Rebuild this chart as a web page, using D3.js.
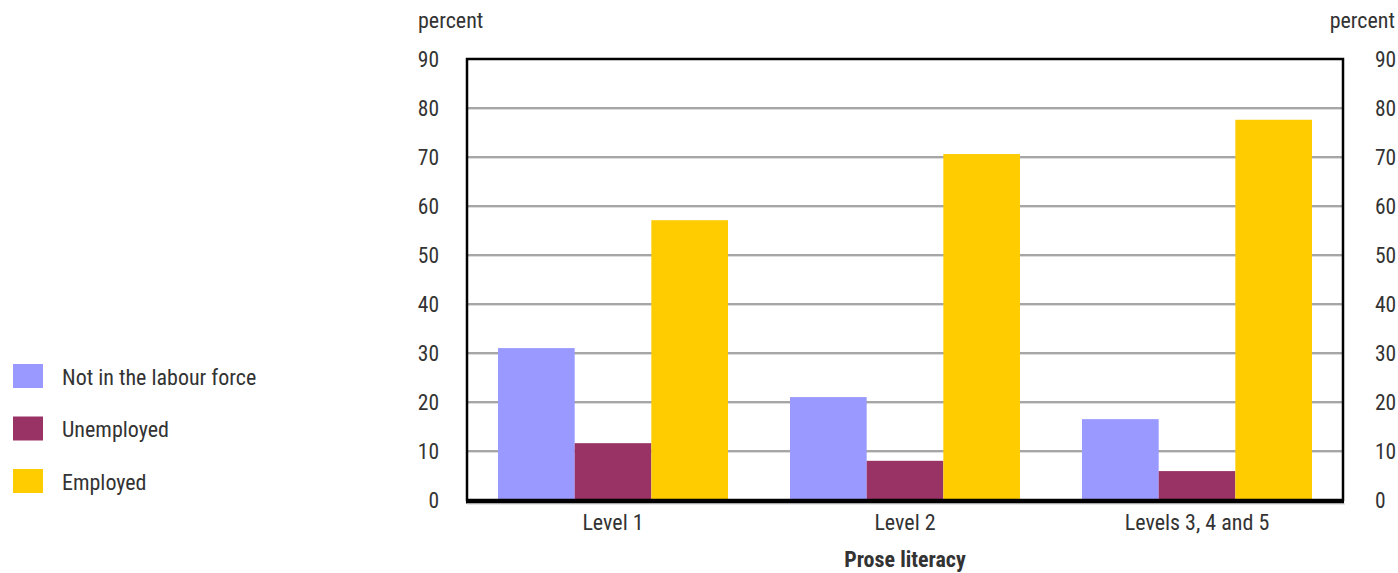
<!DOCTYPE html>
<html><head><meta charset="utf-8">
<script src="https://cdn.jsdelivr.net/npm/d3@7"></script>
<style>
body{margin:0;background:#fff;}
text{font-family:"Liberation Sans Narrow","Arial Narrow","Roboto Condensed",sans-serif;fill:#333;}
</style></head>
<body><svg id="c" width="1398" height="573"></svg>
<script>
const categories = ["Level 1", "Level 2", "Levels 3, 4 and 5"];
const series = ["Not in the labour force", "Unemployed", "Employed"];
const notInLabourForce = [31.0, 21.0, 16.5];
const unemployed = [11.6, 8.0, 5.9];
const employed = [57.1, 70.6, 77.6];
const colors = ["#9999ff", "#993366", "#ffcc00"];
const yTicks = [0,10,20,30,40,50,60,70,80,90];
const xTitle = "Prose literacy";
const yUnit = "percent";

const values = [notInLabourForce, unemployed, employed];
const svg = d3.select("#c");
const L = 467, R = 1343, T = 59, B = 500;
const x0 = d3.scaleBand().domain(categories).range([L, R]).padding(0);
const x1 = d3.scaleBand().domain(series).range([31, x0.bandwidth() - 31]).padding(0);
const y = d3.scaleLinear().domain([0, 90]).range([B, T]);

// gridlines
svg.append("g").selectAll("line").data(yTicks.filter(d => d > 0 && d < 90)).join("line")
  .attr("x1", L).attr("x2", R).attr("y1", d => y(d)).attr("y2", d => y(d))
  .attr("stroke", "#a6a6a6").attr("stroke-width", 2);
svg.append("g").selectAll("line").data(yTicks.filter(d => d > 0 && d < 90)).join("line")
  .attr("x1", L).attr("x2", R).attr("y1", d => y(d) + 1.5).attr("y2", d => y(d) + 1.5)
  .attr("stroke", "#dcdcdc").attr("stroke-width", 1);

// bars
const g = svg.append("g");
categories.forEach((c, i) => {
  series.forEach((s, j) => {
    g.append("rect")
      .attr("x", x0(c) + x1(s))
      .attr("width", x1.bandwidth())
      .attr("y", y(values[j][i]))
      .attr("height", B - y(values[j][i]))
      .attr("fill", colors[j]);
  });
});

// frame
svg.append("rect").attr("x", L).attr("y", T).attr("width", R - L).attr("height", B - T)
  .attr("fill", "none").attr("stroke", "#000").attr("stroke-width", 2.5);
svg.append("line").attr("x1", L - 1).attr("x2", R + 1).attr("y1", B + 1.5).attr("y2", B + 1.5)
  .attr("stroke", "#000").attr("stroke-width", 4);
svg.append("line").attr("x1", L).attr("x2", R + 2).attr("y1", B + 4).attr("y2", B + 4)
  .attr("stroke", "#ccc").attr("stroke-width", 1);

// axes
const yl = d3.axisLeft(y).tickValues(yTicks).tickSize(0).tickPadding(28);
const ya = svg.append("g").attr("transform", `translate(${L},0)`).call(yl);
ya.select(".domain").remove();
ya.selectAll("text").style("font-size", "21.5px").attr("fill", "#333").attr("dy", "0.35em");
const yr = d3.axisRight(y).tickValues(yTicks).tickSize(0).tickPadding(32);
const yra = svg.append("g").attr("transform", `translate(${R},0)`).call(yr);
yra.select(".domain").remove();
yra.selectAll("text").style("font-size", "21.5px").attr("fill", "#333").attr("dy", "0.35em");

const xa = d3.axisBottom(x0).tickSize(0).tickPadding(14);
const xg = svg.append("g").attr("transform", `translate(0,${B})`).call(xa);
xg.select(".domain").remove();
xg.selectAll("text").style("font-size", "22px").attr("fill", "#333").attr("dy", "0.71em");

svg.append("text").attr("x", 418).attr("y", 28).style("font-size", "22px").text(yUnit);
svg.append("text").attr("x", 1395).attr("y", 28).attr("text-anchor", "end").style("font-size", "22px").text(yUnit);

svg.append("text").attr("x", (L + R) / 2).attr("y", 567).attr("text-anchor", "middle")
  .style("font-size", "22px").style("font-weight", "bold").attr("fill", "#222").text(xTitle);

// legend
const lg = svg.append("g");
series.forEach((s, j) => {
  const yy = 364 + j * 52.5;
  lg.append("rect").attr("x", 13).attr("y", yy).attr("width", 30).attr("height", 24).attr("fill", colors[j]);
  lg.append("text").attr("x", 62).attr("y", yy + 13).attr("dy", "0.35em").style("font-size", "22px").text(s);
});
</script></body></html>
